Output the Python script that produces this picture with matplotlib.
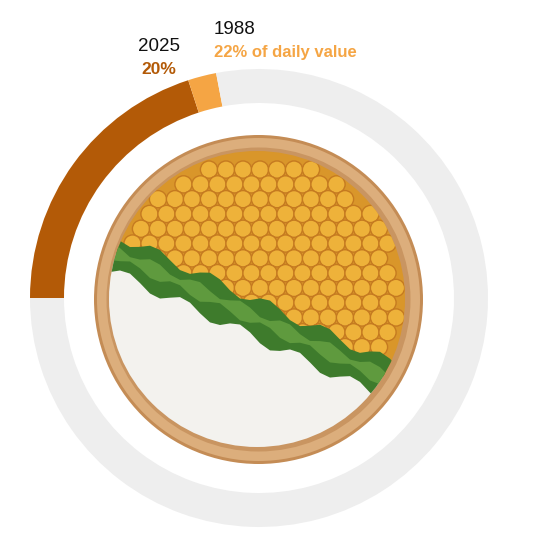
import matplotlib
matplotlib.use("Agg")
import matplotlib.pyplot as plt
from matplotlib.patches import Circle, Polygon
import numpy as np

# ---- data ----
years = ["2025", "1988"]
pct_values = [20, 22]          # % of daily value
colors = ["#b35a07", "#f5a544"]
rest_color = "#eeeeee"

W = H = 537
fig = plt.figure(figsize=(W / 100, H / 100), dpi=100)
ax = fig.add_axes([0, 0, 1, 1])

def Y(yp):
    return H - yp

cx, cy = 259, Y(298)
R_out, R_in = 229, 195

pie_vals = [pct_values[0], pct_values[1] - pct_values[0], 100 - pct_values[1]]
ax.pie(pie_vals, colors=[colors[0], colors[1], rest_color], startangle=180,
       counterclock=False, center=(cx, cy), radius=R_out,
       wedgeprops=dict(width=R_out - R_in, linewidth=0))

# ---- decorative bowl ----
bcx, bcy = 258.5, Y(299.5)
ax.add_patch(Circle((bcx, bcy), 164.5, facecolor="#c48c55", edgecolor="none", zorder=3))
ax.add_patch(Circle((bcx, bcy), 161.5, facecolor="#dcae7c", edgecolor="none", zorder=3))
ax.add_patch(Circle((bcx, bcy), 152, facecolor="#c99561", edgecolor="none", zorder=3))
food = Circle((257, Y(299)), 148, transform=ax.transData)

# dividing line (pixel coords)
x1, y1, x2, y2 = 110, 250, 400, 385
def line_y(xp):
    return y1 + (y2 - y1) * (xp - x1) / (x2 - x1)

xs = np.linspace(60, 460, 41)
chick_poly = Polygon([(60, Y(100))] + [(x, Y(line_y(x))) for x in xs] + [(460, Y(100))],
                     facecolor="#d9962a", edgecolor="none", zorder=4)
rice_poly = Polygon([(60, Y(500))] + [(x, Y(line_y(x))) for x in xs] + [(460, Y(500))],
                    facecolor="#f3f2ee", edgecolor="none", zorder=4)
for p in (chick_poly, rice_poly):
    ax.add_patch(p)
    p.set_clip_path(food)

# chickpeas on a hex grid
r = 8.6
step = 17
row = 0
for yp in np.arange(140, 420, step * 0.87):
    off = (step / 2) if row % 2 else 0
    for xp in np.arange(90 + off, 430, step):
        if yp < line_y(xp) - 4 and (xp - 257) ** 2 + (yp - 299) ** 2 < 143 ** 2:
            c = Circle((xp, Y(yp)), r, facecolor="#eeb23a", edgecolor="#c57a20",
                       linewidth=1.0, zorder=5)
            ax.add_patch(c)
            c.set_clip_path(food)
    row += 1

# greens band (wavy edges)
wob = 6 * np.sin(xs / 9.0)
top = [(x, Y(line_y(x) - 18 + w)) for x, w in zip(xs, wob)]
bot = [(x, Y(line_y(x) + 20 - w)) for x, w in zip(xs[::-1], wob[::-1])]
g = Polygon(top + bot, facecolor="#3e7b2c", edgecolor="none", zorder=6)
ax.add_patch(g)
g.set_clip_path(food)
wob2 = 4 * np.cos(xs / 7.0)
top2 = [(x, Y(line_y(x) - 6 + w)) for x, w in zip(xs, wob2)]
bot2 = [(x, Y(line_y(x) + 6 - w)) for x, w in zip(xs[::-1], wob2[::-1])]
g2 = Polygon(top2 + bot2, facecolor="#5f9a3e", edgecolor="none", zorder=6)
ax.add_patch(g2)
g2.set_clip_path(food)

# ---- labels ----
fam = ["Liberation Sans", "DejaVu Sans"]
ax.text(159, Y(51), years[0], ha="center", va="baseline", fontsize=13.5,
        color="#111111", family=fam)
ax.text(159, Y(74), f"{pct_values[0]}%", ha="center", va="baseline", fontsize=12.5,
        fontweight="bold", color=colors[0], family=fam)
ax.text(214, Y(34), years[1], ha="left", va="baseline", fontsize=13.5,
        color="#111111", family=fam)
ax.text(214, Y(57), f"{pct_values[1]}% of daily value", ha="left", va="baseline",
        fontsize=12, fontweight="bold", color=colors[1], family=fam)

ax.set_xlim(0, W)
ax.set_ylim(0, H)
ax.set_aspect("equal")
ax.axis("off")
fig.savefig("out.png", dpi=100, facecolor="white")
